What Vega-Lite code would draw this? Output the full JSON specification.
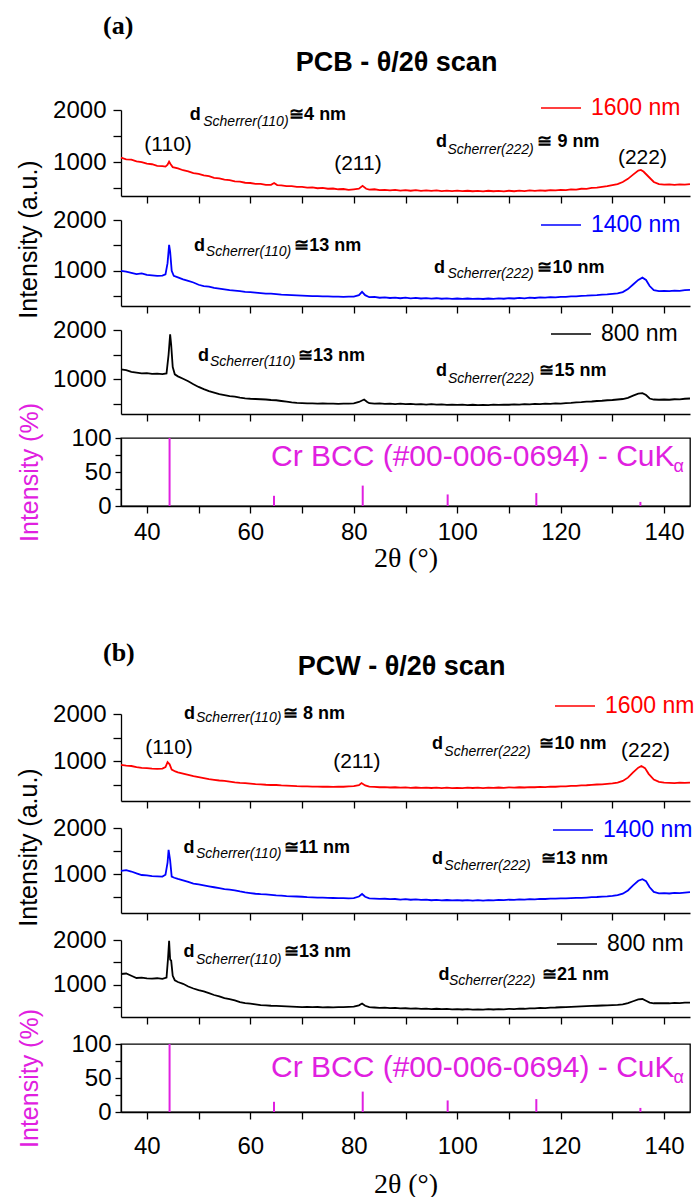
{
"$schema":"https://vega.github.io/schema/vega-lite/v6.json",
"background":"white",
"padding":{"left":15,"top":12,"right":5,"bottom":5},
"config":{
 "view":{"stroke":null},
 "font":"Liberation Sans",
 "axis":{"grid":false,"domainColor":"#000","tickColor":"#000","labelColor":"#000","titleColor":"#000","domainWidth":1.3,"tickWidth":1.3,"labelFont":"Liberation Sans","titleFont":"Liberation Sans","labelFontSize":24,"titleFontWeight":"normal"},
 "legend":{"orient":"none","symbolType":"stroke","symbolSize":1600,"symbolStrokeWidth":1.5,"labelFontSize":23,"labelFont":"Liberation Sans","labelOffset":9,"padding":0},
 "title":{"font":"Liberation Sans","color":"#000"}
},
"datasets":{
"ref":[{"x":44.39,"i":100},{"x":64.58,"i":15},{"x":81.73,"i":30},{"x":98.15,"i":17},{"x":115.29,"i":19},{"x":135.41,"i":6}],
"ann":[
{"p":"a16","k":"b","x":48.3,"y":1808,"t":"d"},{"p":"a16","k":"s","x":50.9,"y":1693,"t":"Scherrer(110)"},{"p":"a16","k":"b","x":67.5,"y":1808,"t":"≅4 nm"},
{"p":"a16","k":"h","x":44.1,"y":1212,"t":"(110)"},{"p":"a16","k":"h","x":80.8,"y":848,"t":"(211)"},
{"p":"a16","k":"b","x":95.9,"y":1290,"t":"d"},{"p":"a16","k":"s","x":98.1,"y":1155,"t":"Scherrer(222)"},{"p":"a16","k":"b","x":115.5,"y":1290,"t":"≅ 9 nm"},
{"p":"a16","k":"h","x":135.8,"y":963,"t":"(222)"},
{"p":"a14","k":"b","x":49.1,"y":1392,"t":"d"},{"p":"a14","k":"s","x":51.4,"y":1294,"t":"Scherrer(110)"},{"p":"a14","k":"b","x":68.5,"y":1392,"t":"≅13 nm"},
{"p":"a14","k":"b","x":95.5,"y":961,"t":"d"},{"p":"a14","k":"s","x":98.1,"y":863,"t":"Scherrer(222)"},{"p":"a14","k":"b","x":115.5,"y":961,"t":"≅10 nm"},
{"p":"a8","k":"b","x":49.9,"y":1367,"t":"d"},{"p":"a8","k":"s","x":52.2,"y":1266,"t":"Scherrer(110)"},{"p":"a8","k":"b","x":69.2,"y":1367,"t":"≅13 nm"},
{"p":"a8","k":"b","x":95.9,"y":1062,"t":"d"},{"p":"a8","k":"s","x":98.2,"y":919,"t":"Scherrer(222)"},{"p":"a8","k":"b","x":115.9,"y":1062,"t":"≅15 nm"},
{"p":"b16","k":"b","x":47.2,"y":1888,"t":"d"},{"p":"b16","k":"s","x":49.5,"y":1830,"t":"Scherrer(110)"},{"p":"b16","k":"b","x":66.3,"y":1888,"t":"≅ 8 nm"},
{"p":"b16","k":"h","x":44.3,"y":1150,"t":"(110)"},{"p":"b16","k":"h","x":80.6,"y":867,"t":"(211)"},
{"p":"b16","k":"b","x":95.1,"y":1255,"t":"d"},{"p":"b16","k":"s","x":97.5,"y":1114,"t":"Scherrer(222)"},{"p":"b16","k":"b","x":115.9,"y":1255,"t":"≅10 nm"},
{"p":"b16","k":"h","x":136.4,"y":1085,"t":"(222)"},
{"p":"b14","k":"b","x":47.1,"y":1465,"t":"d"},{"p":"b14","k":"s","x":49.5,"y":1358,"t":"Scherrer(110)"},{"p":"b14","k":"b","x":66.5,"y":1465,"t":"≅11 nm"},
{"p":"b14","k":"b","x":95.1,"y":1215,"t":"d"},{"p":"b14","k":"s","x":97.5,"y":1086,"t":"Scherrer(222)"},{"p":"b14","k":"b","x":116.2,"y":1215,"t":"≅13 nm"},
{"p":"b8","k":"b","x":47.1,"y":1614,"t":"d"},{"p":"b8","k":"s","x":49.5,"y":1467,"t":"Scherrer(110)"},{"p":"b8","k":"b","x":66.5,"y":1614,"t":"≅13 nm"},
{"p":"b8","k":"b","x":96.4,"y":1096,"t":"d"},{"p":"b8","k":"s","x":98.4,"y":985,"t":"Scherrer(222)"},{"p":"b8","k":"b","x":116.4,"y":1096,"t":"≅21 nm"},
{"p":"ra","k":"m","x":64,"y":59,"t":"Cr BCC (#00-006-0694) - CuK"},{"p":"ra","k":"a","x":141.8,"y":50,"t":"α"},
{"p":"rb","k":"m","x":64,"y":51,"t":"Cr BCC (#00-006-0694) - CuK"},{"p":"rb","k":"a","x":141.8,"y":42,"t":"α"}
],
"xrd":[
{"s":"a16","x":35,"y":1085},{"s":"a16","x":36,"y":1055},{"s":"a16","x":37,"y":1050},{"s":"a16","x":38,"y":1015},{"s":"a16","x":39,"y":1000},{"s":"a16","x":40,"y":970},{"s":"a16","x":41,"y":960},{"s":"a16","x":42,"y":930},{"s":"a16","x":43,"y":925},{"s":"a16","x":43.6,"y":915},{"s":"a16","x":44,"y":950},{"s":"a16","x":44.3,"y":1010},{"s":"a16","x":44.6,"y":960},{"s":"a16","x":45,"y":905},{"s":"a16","x":46,"y":880},{"s":"a16","x":47,"y":845},{"s":"a16","x":48,"y":825},{"s":"a16","x":49,"y":790},{"s":"a16","x":50,"y":775},{"s":"a16","x":51,"y":745},{"s":"a16","x":52,"y":730},{"s":"a16","x":53,"y":700},{"s":"a16","x":54,"y":690},{"s":"a16","x":55,"y":665},{"s":"a16","x":56,"y":655},{"s":"a16","x":57,"y":630},{"s":"a16","x":58,"y":625},{"s":"a16","x":59,"y":605},{"s":"a16","x":60,"y":600},{"s":"a16","x":61,"y":585},{"s":"a16","x":62,"y":585},{"s":"a16","x":63,"y":565},{"s":"a16","x":64,"y":565},{"s":"a16","x":64.6,"y":600},{"s":"a16","x":65.2,"y":560},{"s":"a16","x":66,"y":555},{"s":"a16","x":67,"y":540},{"s":"a16","x":68,"y":540},{"s":"a16","x":69,"y":525},{"s":"a16","x":70,"y":525},{"s":"a16","x":71,"y":510},{"s":"a16","x":72,"y":515},{"s":"a16","x":73,"y":500},{"s":"a16","x":74,"y":505},{"s":"a16","x":75,"y":490},{"s":"a16","x":76,"y":495},{"s":"a16","x":77,"y":480},{"s":"a16","x":78,"y":485},{"s":"a16","x":79,"y":470},{"s":"a16","x":80,"y":480},{"s":"a16","x":81,"y":490},{"s":"a16","x":81.7,"y":545},{"s":"a16","x":82.4,"y":490},{"s":"a16","x":83,"y":475},{"s":"a16","x":84,"y":480},{"s":"a16","x":85,"y":465},{"s":"a16","x":86,"y":470},{"s":"a16","x":87,"y":460},{"s":"a16","x":88,"y":468},{"s":"a16","x":89,"y":455},{"s":"a16","x":90,"y":465},{"s":"a16","x":91,"y":452},{"s":"a16","x":92,"y":462},{"s":"a16","x":93,"y":450},{"s":"a16","x":94,"y":460},{"s":"a16","x":95,"y":448},{"s":"a16","x":96,"y":458},{"s":"a16","x":97,"y":446},{"s":"a16","x":98,"y":455},{"s":"a16","x":99,"y":445},{"s":"a16","x":100,"y":455},{"s":"a16","x":101,"y":443},{"s":"a16","x":102,"y":452},{"s":"a16","x":103,"y":442},{"s":"a16","x":104,"y":450},{"s":"a16","x":105,"y":440},{"s":"a16","x":106,"y":452},{"s":"a16","x":107,"y":442},{"s":"a16","x":108,"y":450},{"s":"a16","x":109,"y":440},{"s":"a16","x":110,"y":452},{"s":"a16","x":111,"y":442},{"s":"a16","x":112,"y":455},{"s":"a16","x":113,"y":445},{"s":"a16","x":114,"y":458},{"s":"a16","x":115,"y":448},{"s":"a16","x":116,"y":460},{"s":"a16","x":117,"y":452},{"s":"a16","x":118,"y":465},{"s":"a16","x":119,"y":458},{"s":"a16","x":120,"y":470},{"s":"a16","x":121,"y":465},{"s":"a16","x":122,"y":478},{"s":"a16","x":123,"y":475},{"s":"a16","x":124,"y":490},{"s":"a16","x":125,"y":488},{"s":"a16","x":126,"y":505},{"s":"a16","x":127,"y":510},{"s":"a16","x":128,"y":525},{"s":"a16","x":129,"y":540},{"s":"a16","x":130,"y":560},{"s":"a16","x":131,"y":580},{"s":"a16","x":132,"y":620},{"s":"a16","x":133,"y":680},{"s":"a16","x":134,"y":760},{"s":"a16","x":135,"y":840},{"s":"a16","x":135.5,"y":850},{"s":"a16","x":136,"y":820},{"s":"a16","x":137,"y":720},{"s":"a16","x":138,"y":620},{"s":"a16","x":139,"y":580},{"s":"a16","x":140,"y":570},{"s":"a16","x":141,"y":575},{"s":"a16","x":142,"y":565},{"s":"a16","x":143,"y":575},{"s":"a16","x":144,"y":568},{"s":"a16","x":145,"y":578},
{"s":"a14","x":35,"y":1000},{"s":"a14","x":36,"y":985},{"s":"a14","x":37,"y":960},{"s":"a14","x":38,"y":935},{"s":"a14","x":39,"y":950},{"s":"a14","x":40,"y":920},{"s":"a14","x":41,"y":910},{"s":"a14","x":42,"y":900},{"s":"a14","x":43,"y":905},{"s":"a14","x":43.6,"y":930},{"s":"a14","x":44,"y":1150},{"s":"a14","x":44.3,"y":1510},{"s":"a14","x":44.5,"y":1380},{"s":"a14","x":44.8,"y":1000},{"s":"a14","x":45.2,"y":900},{"s":"a14","x":46,"y":870},{"s":"a14","x":47,"y":830},{"s":"a14","x":48,"y":800},{"s":"a14","x":49,"y":770},{"s":"a14","x":50,"y":725},{"s":"a14","x":51,"y":700},{"s":"a14","x":52,"y":690},{"s":"a14","x":53,"y":665},{"s":"a14","x":54,"y":650},{"s":"a14","x":55,"y":635},{"s":"a14","x":56,"y":620},{"s":"a14","x":57,"y":610},{"s":"a14","x":58,"y":600},{"s":"a14","x":59,"y":585},{"s":"a14","x":60,"y":580},{"s":"a14","x":61,"y":570},{"s":"a14","x":62,"y":560},{"s":"a14","x":63,"y":550},{"s":"a14","x":64,"y":550},{"s":"a14","x":65,"y":540},{"s":"a14","x":66,"y":530},{"s":"a14","x":67,"y":525},{"s":"a14","x":68,"y":520},{"s":"a14","x":69,"y":515},{"s":"a14","x":70,"y":510},{"s":"a14","x":71,"y":505},{"s":"a14","x":72,"y":500},{"s":"a14","x":73,"y":500},{"s":"a14","x":74,"y":495},{"s":"a14","x":75,"y":495},{"s":"a14","x":76,"y":490},{"s":"a14","x":77,"y":490},{"s":"a14","x":78,"y":485},{"s":"a14","x":79,"y":490},{"s":"a14","x":80,"y":490},{"s":"a14","x":81,"y":520},{"s":"a14","x":81.6,"y":585},{"s":"a14","x":82.2,"y":520},{"s":"a14","x":83,"y":480},{"s":"a14","x":84,"y":485},{"s":"a14","x":85,"y":470},{"s":"a14","x":86,"y":478},{"s":"a14","x":87,"y":465},{"s":"a14","x":88,"y":472},{"s":"a14","x":89,"y":460},{"s":"a14","x":90,"y":470},{"s":"a14","x":91,"y":458},{"s":"a14","x":92,"y":466},{"s":"a14","x":93,"y":455},{"s":"a14","x":94,"y":463},{"s":"a14","x":95,"y":452},{"s":"a14","x":96,"y":460},{"s":"a14","x":97,"y":450},{"s":"a14","x":98,"y":458},{"s":"a14","x":99,"y":448},{"s":"a14","x":100,"y":455},{"s":"a14","x":101,"y":446},{"s":"a14","x":102,"y":455},{"s":"a14","x":103,"y":448},{"s":"a14","x":104,"y":452},{"s":"a14","x":105,"y":445},{"s":"a14","x":106,"y":455},{"s":"a14","x":107,"y":448},{"s":"a14","x":108,"y":458},{"s":"a14","x":109,"y":450},{"s":"a14","x":110,"y":460},{"s":"a14","x":111,"y":455},{"s":"a14","x":112,"y":465},{"s":"a14","x":113,"y":458},{"s":"a14","x":114,"y":470},{"s":"a14","x":115,"y":465},{"s":"a14","x":116,"y":475},{"s":"a14","x":117,"y":470},{"s":"a14","x":118,"y":480},{"s":"a14","x":119,"y":478},{"s":"a14","x":120,"y":488},{"s":"a14","x":121,"y":485},{"s":"a14","x":122,"y":495},{"s":"a14","x":123,"y":495},{"s":"a14","x":124,"y":505},{"s":"a14","x":125,"y":510},{"s":"a14","x":126,"y":518},{"s":"a14","x":127,"y":520},{"s":"a14","x":128,"y":530},{"s":"a14","x":129,"y":535},{"s":"a14","x":130,"y":545},{"s":"a14","x":131,"y":555},{"s":"a14","x":132,"y":580},{"s":"a14","x":133,"y":640},{"s":"a14","x":134,"y":730},{"s":"a14","x":135,"y":820},{"s":"a14","x":135.8,"y":865},{"s":"a14","x":136.5,"y":820},{"s":"a14","x":137.2,"y":700},{"s":"a14","x":138,"y":620},{"s":"a14","x":139,"y":600},{"s":"a14","x":140,"y":605},{"s":"a14","x":141,"y":600},{"s":"a14","x":142,"y":610},{"s":"a14","x":143,"y":605},{"s":"a14","x":144,"y":620},{"s":"a14","x":145,"y":625},
{"s":"a8","x":35,"y":1200},{"s":"a8","x":36,"y":1185},{"s":"a8","x":37,"y":1150},{"s":"a8","x":38,"y":1135},{"s":"a8","x":39,"y":1120},{"s":"a8","x":40,"y":1125},{"s":"a8","x":41,"y":1110},{"s":"a8","x":42,"y":1115},{"s":"a8","x":43,"y":1105},{"s":"a8","x":43.8,"y":1120},{"s":"a8","x":44.2,"y":1500},{"s":"a8","x":44.5,"y":1910},{"s":"a8","x":44.7,"y":1700},{"s":"a8","x":45,"y":1250},{"s":"a8","x":45.4,"y":1100},{"s":"a8","x":46,"y":1060},{"s":"a8","x":47,"y":1010},{"s":"a8","x":48,"y":960},{"s":"a8","x":49,"y":900},{"s":"a8","x":50,"y":845},{"s":"a8","x":51,"y":800},{"s":"a8","x":52,"y":760},{"s":"a8","x":53,"y":730},{"s":"a8","x":54,"y":700},{"s":"a8","x":55,"y":680},{"s":"a8","x":56,"y":660},{"s":"a8","x":57,"y":650},{"s":"a8","x":58,"y":630},{"s":"a8","x":59,"y":615},{"s":"a8","x":60,"y":605},{"s":"a8","x":61,"y":600},{"s":"a8","x":62,"y":595},{"s":"a8","x":63,"y":590},{"s":"a8","x":64,"y":580},{"s":"a8","x":65,"y":575},{"s":"a8","x":66,"y":560},{"s":"a8","x":67,"y":545},{"s":"a8","x":68,"y":530},{"s":"a8","x":69,"y":520},{"s":"a8","x":70,"y":515},{"s":"a8","x":71,"y":510},{"s":"a8","x":72,"y":512},{"s":"a8","x":73,"y":505},{"s":"a8","x":74,"y":510},{"s":"a8","x":75,"y":505},{"s":"a8","x":76,"y":508},{"s":"a8","x":77,"y":500},{"s":"a8","x":78,"y":508},{"s":"a8","x":79,"y":505},{"s":"a8","x":80,"y":510},{"s":"a8","x":81,"y":540},{"s":"a8","x":82,"y":590},{"s":"a8","x":82.6,"y":540},{"s":"a8","x":83,"y":515},{"s":"a8","x":84,"y":505},{"s":"a8","x":85,"y":510},{"s":"a8","x":86,"y":500},{"s":"a8","x":87,"y":508},{"s":"a8","x":88,"y":498},{"s":"a8","x":89,"y":505},{"s":"a8","x":90,"y":495},{"s":"a8","x":91,"y":502},{"s":"a8","x":92,"y":492},{"s":"a8","x":93,"y":498},{"s":"a8","x":94,"y":488},{"s":"a8","x":95,"y":495},{"s":"a8","x":96,"y":485},{"s":"a8","x":97,"y":492},{"s":"a8","x":98,"y":482},{"s":"a8","x":99,"y":488},{"s":"a8","x":100,"y":480},{"s":"a8","x":101,"y":486},{"s":"a8","x":102,"y":478},{"s":"a8","x":103,"y":484},{"s":"a8","x":104,"y":476},{"s":"a8","x":105,"y":482},{"s":"a8","x":106,"y":478},{"s":"a8","x":107,"y":486},{"s":"a8","x":108,"y":480},{"s":"a8","x":109,"y":488},{"s":"a8","x":110,"y":484},{"s":"a8","x":111,"y":492},{"s":"a8","x":112,"y":488},{"s":"a8","x":113,"y":496},{"s":"a8","x":114,"y":492},{"s":"a8","x":115,"y":500},{"s":"a8","x":116,"y":496},{"s":"a8","x":117,"y":505},{"s":"a8","x":118,"y":500},{"s":"a8","x":119,"y":510},{"s":"a8","x":120,"y":508},{"s":"a8","x":121,"y":518},{"s":"a8","x":122,"y":520},{"s":"a8","x":123,"y":530},{"s":"a8","x":124,"y":535},{"s":"a8","x":125,"y":545},{"s":"a8","x":126,"y":550},{"s":"a8","x":127,"y":560},{"s":"a8","x":128,"y":565},{"s":"a8","x":129,"y":575},{"s":"a8","x":130,"y":580},{"s":"a8","x":131,"y":590},{"s":"a8","x":132,"y":600},{"s":"a8","x":133,"y":625},{"s":"a8","x":134,"y":670},{"s":"a8","x":135,"y":710},{"s":"a8","x":135.8,"y":720},{"s":"a8","x":136.5,"y":680},{"s":"a8","x":137.2,"y":610},{"s":"a8","x":138,"y":590},{"s":"a8","x":139,"y":585},{"s":"a8","x":140,"y":590},{"s":"a8","x":141,"y":585},{"s":"a8","x":142,"y":595},{"s":"a8","x":143,"y":592},{"s":"a8","x":144,"y":605},{"s":"a8","x":145,"y":610},
{"s":"b16","x":35,"y":930},{"s":"b16","x":36,"y":915},{"s":"b16","x":37,"y":905},{"s":"b16","x":38,"y":880},{"s":"b16","x":39,"y":865},{"s":"b16","x":40,"y":860},{"s":"b16","x":41,"y":850},{"s":"b16","x":42,"y":845},{"s":"b16","x":43,"y":850},{"s":"b16","x":43.6,"y":880},{"s":"b16","x":44,"y":985},{"s":"b16","x":44.4,"y":940},{"s":"b16","x":44.8,"y":830},{"s":"b16","x":45.5,"y":790},{"s":"b16","x":46,"y":770},{"s":"b16","x":47,"y":745},{"s":"b16","x":48,"y":720},{"s":"b16","x":49,"y":690},{"s":"b16","x":50,"y":670},{"s":"b16","x":51,"y":650},{"s":"b16","x":52,"y":630},{"s":"b16","x":53,"y":615},{"s":"b16","x":54,"y":600},{"s":"b16","x":55,"y":590},{"s":"b16","x":56,"y":575},{"s":"b16","x":57,"y":560},{"s":"b16","x":58,"y":550},{"s":"b16","x":59,"y":545},{"s":"b16","x":60,"y":535},{"s":"b16","x":61,"y":525},{"s":"b16","x":62,"y":520},{"s":"b16","x":63,"y":510},{"s":"b16","x":64,"y":505},{"s":"b16","x":65,"y":505},{"s":"b16","x":66,"y":495},{"s":"b16","x":67,"y":490},{"s":"b16","x":68,"y":485},{"s":"b16","x":69,"y":480},{"s":"b16","x":70,"y":478},{"s":"b16","x":71,"y":475},{"s":"b16","x":72,"y":470},{"s":"b16","x":73,"y":472},{"s":"b16","x":74,"y":468},{"s":"b16","x":75,"y":470},{"s":"b16","x":76,"y":465},{"s":"b16","x":77,"y":472},{"s":"b16","x":78,"y":468},{"s":"b16","x":79,"y":475},{"s":"b16","x":80,"y":480},{"s":"b16","x":81,"y":500},{"s":"b16","x":81.5,"y":545},{"s":"b16","x":82.2,"y":495},{"s":"b16","x":83,"y":470},{"s":"b16","x":84,"y":465},{"s":"b16","x":85,"y":458},{"s":"b16","x":86,"y":462},{"s":"b16","x":87,"y":452},{"s":"b16","x":88,"y":458},{"s":"b16","x":89,"y":450},{"s":"b16","x":90,"y":455},{"s":"b16","x":91,"y":446},{"s":"b16","x":92,"y":452},{"s":"b16","x":93,"y":444},{"s":"b16","x":94,"y":450},{"s":"b16","x":95,"y":442},{"s":"b16","x":96,"y":448},{"s":"b16","x":97,"y":440},{"s":"b16","x":98,"y":448},{"s":"b16","x":99,"y":440},{"s":"b16","x":100,"y":446},{"s":"b16","x":101,"y":440},{"s":"b16","x":102,"y":448},{"s":"b16","x":103,"y":442},{"s":"b16","x":104,"y":448},{"s":"b16","x":105,"y":440},{"s":"b16","x":106,"y":450},{"s":"b16","x":107,"y":444},{"s":"b16","x":108,"y":452},{"s":"b16","x":109,"y":446},{"s":"b16","x":110,"y":455},{"s":"b16","x":111,"y":450},{"s":"b16","x":112,"y":458},{"s":"b16","x":113,"y":452},{"s":"b16","x":114,"y":462},{"s":"b16","x":115,"y":458},{"s":"b16","x":116,"y":466},{"s":"b16","x":117,"y":462},{"s":"b16","x":118,"y":470},{"s":"b16","x":119,"y":468},{"s":"b16","x":120,"y":478},{"s":"b16","x":121,"y":475},{"s":"b16","x":122,"y":485},{"s":"b16","x":123,"y":488},{"s":"b16","x":124,"y":495},{"s":"b16","x":125,"y":500},{"s":"b16","x":126,"y":508},{"s":"b16","x":127,"y":515},{"s":"b16","x":128,"y":520},{"s":"b16","x":129,"y":530},{"s":"b16","x":130,"y":540},{"s":"b16","x":131,"y":555},{"s":"b16","x":132,"y":590},{"s":"b16","x":133,"y":660},{"s":"b16","x":134,"y":770},{"s":"b16","x":135,"y":870},{"s":"b16","x":135.6,"y":905},{"s":"b16","x":136.3,"y":860},{"s":"b16","x":137,"y":740},{"s":"b16","x":138,"y":620},{"s":"b16","x":139,"y":570},{"s":"b16","x":140,"y":555},{"s":"b16","x":141,"y":550},{"s":"b16","x":142,"y":545},{"s":"b16","x":143,"y":555},{"s":"b16","x":144,"y":548},{"s":"b16","x":145,"y":555},
{"s":"b14","x":35,"y":1075},{"s":"b14","x":36,"y":1090},{"s":"b14","x":37,"y":1060},{"s":"b14","x":38,"y":1020},{"s":"b14","x":39,"y":985},{"s":"b14","x":40,"y":975},{"s":"b14","x":41,"y":960},{"s":"b14","x":42,"y":955},{"s":"b14","x":43,"y":950},{"s":"b14","x":43.6,"y":990},{"s":"b14","x":44,"y":1250},{"s":"b14","x":44.2,"y":1530},{"s":"b14","x":44.5,"y":1300},{"s":"b14","x":44.8,"y":950},{"s":"b14","x":45.3,"y":925},{"s":"b14","x":46,"y":900},{"s":"b14","x":47,"y":870},{"s":"b14","x":48,"y":835},{"s":"b14","x":49,"y":800},{"s":"b14","x":50,"y":780},{"s":"b14","x":51,"y":760},{"s":"b14","x":52,"y":740},{"s":"b14","x":53,"y":720},{"s":"b14","x":54,"y":700},{"s":"b14","x":55,"y":680},{"s":"b14","x":56,"y":670},{"s":"b14","x":57,"y":655},{"s":"b14","x":58,"y":630},{"s":"b14","x":59,"y":610},{"s":"b14","x":60,"y":595},{"s":"b14","x":61,"y":580},{"s":"b14","x":62,"y":570},{"s":"b14","x":63,"y":565},{"s":"b14","x":64,"y":555},{"s":"b14","x":65,"y":545},{"s":"b14","x":66,"y":540},{"s":"b14","x":67,"y":530},{"s":"b14","x":68,"y":525},{"s":"b14","x":69,"y":520},{"s":"b14","x":70,"y":515},{"s":"b14","x":71,"y":505},{"s":"b14","x":72,"y":500},{"s":"b14","x":73,"y":495},{"s":"b14","x":74,"y":495},{"s":"b14","x":75,"y":490},{"s":"b14","x":76,"y":488},{"s":"b14","x":77,"y":485},{"s":"b14","x":78,"y":484},{"s":"b14","x":79,"y":482},{"s":"b14","x":80,"y":485},{"s":"b14","x":81,"y":520},{"s":"b14","x":81.6,"y":575},{"s":"b14","x":82.2,"y":515},{"s":"b14","x":83,"y":480},{"s":"b14","x":84,"y":475},{"s":"b14","x":85,"y":468},{"s":"b14","x":86,"y":472},{"s":"b14","x":87,"y":462},{"s":"b14","x":88,"y":466},{"s":"b14","x":89,"y":455},{"s":"b14","x":90,"y":462},{"s":"b14","x":91,"y":450},{"s":"b14","x":92,"y":458},{"s":"b14","x":93,"y":446},{"s":"b14","x":94,"y":452},{"s":"b14","x":95,"y":440},{"s":"b14","x":96,"y":448},{"s":"b14","x":97,"y":438},{"s":"b14","x":98,"y":445},{"s":"b14","x":99,"y":435},{"s":"b14","x":100,"y":442},{"s":"b14","x":101,"y":434},{"s":"b14","x":102,"y":440},{"s":"b14","x":103,"y":432},{"s":"b14","x":104,"y":440},{"s":"b14","x":105,"y":432},{"s":"b14","x":106,"y":442},{"s":"b14","x":107,"y":436},{"s":"b14","x":108,"y":446},{"s":"b14","x":109,"y":440},{"s":"b14","x":110,"y":452},{"s":"b14","x":111,"y":446},{"s":"b14","x":112,"y":458},{"s":"b14","x":113,"y":452},{"s":"b14","x":114,"y":464},{"s":"b14","x":115,"y":460},{"s":"b14","x":116,"y":470},{"s":"b14","x":117,"y":466},{"s":"b14","x":118,"y":476},{"s":"b14","x":119,"y":474},{"s":"b14","x":120,"y":480},{"s":"b14","x":121,"y":482},{"s":"b14","x":122,"y":486},{"s":"b14","x":123,"y":490},{"s":"b14","x":124,"y":492},{"s":"b14","x":125,"y":498},{"s":"b14","x":126,"y":505},{"s":"b14","x":127,"y":510},{"s":"b14","x":128,"y":518},{"s":"b14","x":129,"y":525},{"s":"b14","x":130,"y":535},{"s":"b14","x":131,"y":550},{"s":"b14","x":132,"y":580},{"s":"b14","x":133,"y":650},{"s":"b14","x":134,"y":760},{"s":"b14","x":135,"y":860},{"s":"b14","x":135.8,"y":895},{"s":"b14","x":136.5,"y":850},{"s":"b14","x":137.2,"y":720},{"s":"b14","x":138,"y":620},{"s":"b14","x":139,"y":590},{"s":"b14","x":140,"y":595},{"s":"b14","x":141,"y":585},{"s":"b14","x":142,"y":600},{"s":"b14","x":143,"y":595},{"s":"b14","x":144,"y":605},{"s":"b14","x":145,"y":615},
{"s":"b8","x":35,"y":1240},{"s":"b8","x":36,"y":1250},{"s":"b8","x":37,"y":1200},{"s":"b8","x":38,"y":1150},{"s":"b8","x":39,"y":1160},{"s":"b8","x":40,"y":1140},{"s":"b8","x":41,"y":1135},{"s":"b8","x":42,"y":1145},{"s":"b8","x":43,"y":1130},{"s":"b8","x":43.8,"y":1160},{"s":"b8","x":44.1,"y":1600},{"s":"b8","x":44.3,"y":1980},{"s":"b8","x":44.5,"y":1560},{"s":"b8","x":44.7,"y":1540},{"s":"b8","x":45,"y":1200},{"s":"b8","x":45.4,"y":1100},{"s":"b8","x":46,"y":1060},{"s":"b8","x":47,"y":1020},{"s":"b8","x":48,"y":960},{"s":"b8","x":49,"y":915},{"s":"b8","x":50,"y":880},{"s":"b8","x":51,"y":850},{"s":"b8","x":52,"y":810},{"s":"b8","x":53,"y":770},{"s":"b8","x":54,"y":740},{"s":"b8","x":55,"y":700},{"s":"b8","x":56,"y":680},{"s":"b8","x":57,"y":650},{"s":"b8","x":58,"y":610},{"s":"b8","x":59,"y":590},{"s":"b8","x":60,"y":575},{"s":"b8","x":61,"y":560},{"s":"b8","x":62,"y":545},{"s":"b8","x":63,"y":540},{"s":"b8","x":64,"y":530},{"s":"b8","x":65,"y":525},{"s":"b8","x":66,"y":520},{"s":"b8","x":67,"y":515},{"s":"b8","x":68,"y":510},{"s":"b8","x":69,"y":505},{"s":"b8","x":70,"y":500},{"s":"b8","x":71,"y":505},{"s":"b8","x":72,"y":498},{"s":"b8","x":73,"y":502},{"s":"b8","x":74,"y":495},{"s":"b8","x":75,"y":500},{"s":"b8","x":76,"y":495},{"s":"b8","x":77,"y":500},{"s":"b8","x":78,"y":498},{"s":"b8","x":79,"y":505},{"s":"b8","x":80,"y":510},{"s":"b8","x":81,"y":540},{"s":"b8","x":81.6,"y":580},{"s":"b8","x":82.2,"y":530},{"s":"b8","x":83,"y":500},{"s":"b8","x":84,"y":490},{"s":"b8","x":85,"y":482},{"s":"b8","x":86,"y":486},{"s":"b8","x":87,"y":476},{"s":"b8","x":88,"y":480},{"s":"b8","x":89,"y":470},{"s":"b8","x":90,"y":474},{"s":"b8","x":91,"y":465},{"s":"b8","x":92,"y":470},{"s":"b8","x":93,"y":460},{"s":"b8","x":94,"y":466},{"s":"b8","x":95,"y":456},{"s":"b8","x":96,"y":462},{"s":"b8","x":97,"y":452},{"s":"b8","x":98,"y":458},{"s":"b8","x":99,"y":448},{"s":"b8","x":100,"y":455},{"s":"b8","x":101,"y":446},{"s":"b8","x":102,"y":452},{"s":"b8","x":103,"y":444},{"s":"b8","x":104,"y":450},{"s":"b8","x":105,"y":444},{"s":"b8","x":106,"y":452},{"s":"b8","x":107,"y":446},{"s":"b8","x":108,"y":455},{"s":"b8","x":109,"y":450},{"s":"b8","x":110,"y":460},{"s":"b8","x":111,"y":456},{"s":"b8","x":112,"y":466},{"s":"b8","x":113,"y":462},{"s":"b8","x":114,"y":472},{"s":"b8","x":115,"y":470},{"s":"b8","x":116,"y":480},{"s":"b8","x":117,"y":478},{"s":"b8","x":118,"y":488},{"s":"b8","x":119,"y":490},{"s":"b8","x":120,"y":496},{"s":"b8","x":121,"y":500},{"s":"b8","x":122,"y":505},{"s":"b8","x":123,"y":510},{"s":"b8","x":124,"y":515},{"s":"b8","x":125,"y":520},{"s":"b8","x":126,"y":525},{"s":"b8","x":127,"y":530},{"s":"b8","x":128,"y":535},{"s":"b8","x":129,"y":540},{"s":"b8","x":130,"y":545},{"s":"b8","x":131,"y":550},{"s":"b8","x":132,"y":560},{"s":"b8","x":133,"y":590},{"s":"b8","x":134,"y":630},{"s":"b8","x":135,"y":670},{"s":"b8","x":135.8,"y":680},{"s":"b8","x":136.5,"y":640},{"s":"b8","x":137.2,"y":600},{"s":"b8","x":138,"y":585},{"s":"b8","x":139,"y":585},{"s":"b8","x":140,"y":590},{"s":"b8","x":141,"y":585},{"s":"b8","x":142,"y":595},{"s":"b8","x":143,"y":590},{"s":"b8","x":144,"y":598},{"s":"b8","x":145,"y":600}
]
},
"spacing":66,
"resolve":{"scale":{"x":"independent","y":"independent","color":"independent"},"legend":{"color":"independent"}},
"vconcat":[
{
 "title":{"text":"(a)","anchor":"start","font":"Liberation Serif","fontSize":26,"fontWeight":"bold","frame":"bounds","dx":87,"offset":10},
 "spacing":24,"bounds":"flush",
 "resolve":{"scale":{"x":"independent","y":"independent","color":"independent"},"legend":{"color":"independent"}},
 "vconcat":[
  {"width":569,"height":86,
   "title":{"text":"PCB - θ/2θ scan","fontSize":27,"fontWeight":"bold","anchor":"middle","dx":-9,"offset":10.5},
   "resolve":{"axis":{"y":"independent"}},
   "layer":[
    {"data":{"name":"xrd"},"transform":[{"filter":"datum.s==='a16'"}],"mark":{"type":"line","strokeWidth":1.8},
     "encoding":{
      "x":{"field":"x","type":"quantitative","scale":{"domain":[35,145],"nice":false,"zero":false},"axis":{"values":[40,50,60,70,80,90,100,110,120,130,140],"labels":false,"tickSize":7,"title":null}},
      "y":{"field":"y","type":"quantitative","scale":{"domain":[351,2000],"nice":false,"zero":false},"axis":{"orient":"left","values":[1000,2000],"format":"d","tickSize":8,"labelPadding":7,"title":null}},
      "color":{"datum":"1600 nm","type":"nominal","scale":{"range":["#ff0000"]},"legend":{"legendX":419,"legendY":-23,"labelColor":"#ff0000","title":null}}}},
    {"data":{"name":"ann"},"transform":[{"filter":"datum.p==='a16' && datum.k==='b'"}],"mark":{"type":"text","align":"left","baseline":"alphabetic","fontSize":18,"fontWeight":"bold","color":"#000"},"encoding":{"x":{"field":"x","type":"quantitative"},"y":{"field":"y","type":"quantitative","axis":{"orient":"left","values":[500,1500],"labels":false,"domain":false,"tickSize":8,"title":null}},"text":{"field":"t"}}},
    {"data":{"name":"ann"},"transform":[{"filter":"datum.p==='a16' && datum.k==='s'"}],"mark":{"type":"text","align":"left","baseline":"alphabetic","fontSize":14,"fontStyle":"italic","color":"#000"},"encoding":{"x":{"field":"x","type":"quantitative"},"y":{"field":"y","type":"quantitative","axis":null},"text":{"field":"t"}}},
    {"data":{"name":"ann"},"transform":[{"filter":"datum.p==='a16' && datum.k==='h'"}],"mark":{"type":"text","align":"center","baseline":"alphabetic","fontSize":21,"color":"#000"},"encoding":{"x":{"field":"x","type":"quantitative"},"y":{"field":"y","type":"quantitative","axis":null},"text":{"field":"t"}}}
   ]},
  {"width":569,"height":86,
   "resolve":{"axis":{"y":"independent"}},
   "layer":[
    {"data":{"name":"xrd"},"transform":[{"filter":"datum.s==='a14'"}],"mark":{"type":"line","strokeWidth":1.8},
     "encoding":{
      "x":{"field":"x","type":"quantitative","scale":{"domain":[35,145],"nice":false,"zero":false},"axis":{"values":[40,50,60,70,80,90,100,110,120,130,140],"labels":false,"tickSize":7,"title":null}},
      "y":{"field":"y","type":"quantitative","scale":{"domain":[307,2000],"nice":false,"zero":false},"axis":{"orient":"left","values":[1000,2000],"format":"d","tickSize":8,"labelPadding":7,"title":"Intensity (a.u.)","titleFontSize":25,"titleX":-80,"titleY":19,"titleBaseline":"bottom","titleAlign":"center"}},
      "color":{"datum":"1400 nm","type":"nominal","scale":{"range":["#0000ff"]},"legend":{"legendX":419,"legendY":-16,"labelColor":"#0000ff","title":null}}}},
    {"data":{"name":"ann"},"transform":[{"filter":"datum.p==='a14' && datum.k==='b'"}],"mark":{"type":"text","align":"left","baseline":"alphabetic","fontSize":18,"fontWeight":"bold","color":"#000"},"encoding":{"x":{"field":"x","type":"quantitative"},"y":{"field":"y","type":"quantitative","axis":{"orient":"left","values":[500,1500],"labels":false,"domain":false,"tickSize":8,"title":null}},"text":{"field":"t"}}},
    {"data":{"name":"ann"},"transform":[{"filter":"datum.p==='a14' && datum.k==='s'"}],"mark":{"type":"text","align":"left","baseline":"alphabetic","fontSize":14,"fontStyle":"italic","color":"#000"},"encoding":{"x":{"field":"x","type":"quantitative"},"y":{"field":"y","type":"quantitative","axis":null},"text":{"field":"t"}}}
   ]},
  {"width":569,"height":84,
   "resolve":{"axis":{"y":"independent"}},
   "layer":[
    {"data":{"name":"xrd"},"transform":[{"filter":"datum.s==='a8'"}],"mark":{"type":"line","strokeWidth":1.8},
     "encoding":{
      "x":{"field":"x","type":"quantitative","scale":{"domain":[35,145],"nice":false,"zero":false},"axis":{"values":[40,50,60,70,80,90,100,110,120,130,140],"labels":false,"tickSize":7,"title":null}},
      "y":{"field":"y","type":"quantitative","scale":{"domain":[296,2000],"nice":false,"zero":false},"axis":{"orient":"left","values":[1000,2000],"format":"d","tickSize":8,"labelPadding":7,"title":null}},
      "color":{"datum":"800 nm","type":"nominal","scale":{"range":["#000000"]},"legend":{"legendX":429,"legendY":-17,"labelColor":"#000000","title":null}}}},
    {"data":{"name":"ann"},"transform":[{"filter":"datum.p==='a8' && datum.k==='b'"}],"mark":{"type":"text","align":"left","baseline":"alphabetic","fontSize":18,"fontWeight":"bold","color":"#000"},"encoding":{"x":{"field":"x","type":"quantitative"},"y":{"field":"y","type":"quantitative","axis":{"orient":"left","values":[500,1500],"labels":false,"domain":false,"tickSize":8,"title":null}},"text":{"field":"t"}}},
    {"data":{"name":"ann"},"transform":[{"filter":"datum.p==='a8' && datum.k==='s'"}],"mark":{"type":"text","align":"left","baseline":"alphabetic","fontSize":14,"fontStyle":"italic","color":"#000"},"encoding":{"x":{"field":"x","type":"quantitative"},"y":{"field":"y","type":"quantitative","axis":null},"text":{"field":"t"}}}
   ]},
  {"width":569,"height":68,"view":{"stroke":"#000","strokeWidth":1.3},
   "resolve":{"axis":{"y":"independent"}},
   "layer":[
    {"data":{"name":"ref"},"mark":{"type":"rule","color":"#e020e0","strokeWidth":2},
     "encoding":{
      "x":{"field":"x","type":"quantitative","scale":{"domain":[35,145],"nice":false,"zero":false},"axis":{"values":[40,50,60,70,80,90,100,110,120,130,140],"labelExpr":"datum.value % 20 === 0 ? datum.label : ''","tickSize":7,"labelPadding":7,"title":"2θ (°)","titleFont":"Liberation Serif","titleFontSize":28,"titleY":52,"titleBaseline":"middle"}},
      "y":{"field":"i","type":"quantitative","scale":{"domain":[0,100],"nice":false},"axis":{"orient":"left","values":[0,100],"tickSize":6,"labelPadding":4,"title":"Intensity (%)","titleColor":"#e020e0","titleFontSize":25,"titleX":-79,"titleBaseline":"bottom"}},
      "y2":{"datum":0}}},
    {"data":{"name":"ann"},"transform":[{"filter":"datum.p==='ra' && datum.k==='m'"}],"mark":{"type":"text","align":"left","baseline":"alphabetic","fontSize":30,"color":"#e020e0"},"encoding":{"x":{"field":"x","type":"quantitative"},"y":{"field":"y","type":"quantitative","axis":{"orient":"left","values":[50],"domain":false,"tickSize":6,"labelPadding":4,"title":null}},"text":{"field":"t"}}},
    {"data":{"name":"ann"},"transform":[{"filter":"datum.p==='ra' && datum.k==='a'"}],"mark":{"type":"text","align":"left","baseline":"alphabetic","fontSize":18,"color":"#e020e0"},"encoding":{"x":{"field":"x","type":"quantitative"},"y":{"field":"y","type":"quantitative","axis":{"orient":"left","values":[25,75],"labels":false,"domain":false,"tickSize":6,"title":null}},"text":{"field":"t"}}}
   ]}
 ]
},
{
 "title":{"text":"(b)","anchor":"start","font":"Liberation Serif","fontSize":26,"fontWeight":"bold","frame":"bounds","dx":87,"offset":-13},
 "spacing":27,"bounds":"flush",
 "resolve":{"scale":{"x":"independent","y":"independent","color":"independent"},"legend":{"color":"independent"}},
 "vconcat":[
  {"width":569,"height":87,
   "title":{"text":"PCW - θ/2θ scan","fontSize":27,"fontWeight":"bold","anchor":"middle","dx":-4,"offset":4.5},
   "resolve":{"axis":{"y":"independent"}},
   "layer":[
    {"data":{"name":"xrd"},"transform":[{"filter":"datum.s==='b16'"}],"mark":{"type":"line","strokeWidth":1.8},
     "encoding":{
      "x":{"field":"x","type":"quantitative","scale":{"domain":[35,145],"nice":false,"zero":false},"axis":{"values":[40,50,60,70,80,90,100,110,120,130,140],"labels":false,"tickSize":7,"title":null}},
      "y":{"field":"y","type":"quantitative","scale":{"domain":[168,2000],"nice":false,"zero":false},"axis":{"orient":"left","values":[1000,2000],"format":"d","tickSize":8,"labelPadding":7,"title":null}},
      "color":{"datum":"1600 nm","type":"nominal","scale":{"range":["#ff0000"]},"legend":{"legendX":433,"legendY":-29,"labelColor":"#ff0000","title":null}}}},
    {"data":{"name":"ann"},"transform":[{"filter":"datum.p==='b16' && datum.k==='b'"}],"mark":{"type":"text","align":"left","baseline":"alphabetic","fontSize":18,"fontWeight":"bold","color":"#000"},"encoding":{"x":{"field":"x","type":"quantitative"},"y":{"field":"y","type":"quantitative","axis":{"orient":"left","values":[500,1500],"labels":false,"domain":false,"tickSize":8,"title":null}},"text":{"field":"t"}}},
    {"data":{"name":"ann"},"transform":[{"filter":"datum.p==='b16' && datum.k==='s'"}],"mark":{"type":"text","align":"left","baseline":"alphabetic","fontSize":14,"fontStyle":"italic","color":"#000"},"encoding":{"x":{"field":"x","type":"quantitative"},"y":{"field":"y","type":"quantitative","axis":null},"text":{"field":"t"}}},
    {"data":{"name":"ann"},"transform":[{"filter":"datum.p==='b16' && datum.k==='h'"}],"mark":{"type":"text","align":"center","baseline":"alphabetic","fontSize":21,"color":"#000"},"encoding":{"x":{"field":"x","type":"quantitative"},"y":{"field":"y","type":"quantitative","axis":null},"text":{"field":"t"}}}
   ]},
  {"width":569,"height":85,
   "resolve":{"axis":{"y":"independent"}},
   "layer":[
    {"data":{"name":"xrd"},"transform":[{"filter":"datum.s==='b14'"}],"mark":{"type":"line","strokeWidth":1.8},
     "encoding":{
      "x":{"field":"x","type":"quantitative","scale":{"domain":[35,145],"nice":false,"zero":false},"axis":{"values":[40,50,60,70,80,90,100,110,120,130,140],"labels":false,"tickSize":7,"title":null}},
      "y":{"field":"y","type":"quantitative","scale":{"domain":[164,2000],"nice":false,"zero":false},"axis":{"orient":"left","values":[1000,2000],"format":"d","tickSize":8,"labelPadding":7,"title":"Intensity (a.u.)","titleFontSize":25,"titleX":-80,"titleY":19,"titleBaseline":"bottom","titleAlign":"center"}},
      "color":{"datum":"1400 nm","type":"nominal","scale":{"range":["#0000ff"]},"legend":{"legendX":431,"legendY":-19,"labelColor":"#0000ff","title":null}}}},
    {"data":{"name":"ann"},"transform":[{"filter":"datum.p==='b14' && datum.k==='b'"}],"mark":{"type":"text","align":"left","baseline":"alphabetic","fontSize":18,"fontWeight":"bold","color":"#000"},"encoding":{"x":{"field":"x","type":"quantitative"},"y":{"field":"y","type":"quantitative","axis":{"orient":"left","values":[500,1500],"labels":false,"domain":false,"tickSize":8,"title":null}},"text":{"field":"t"}}},
    {"data":{"name":"ann"},"transform":[{"filter":"datum.p==='b14' && datum.k==='s'"}],"mark":{"type":"text","align":"left","baseline":"alphabetic","fontSize":14,"fontStyle":"italic","color":"#000"},"encoding":{"x":{"field":"x","type":"quantitative"},"y":{"field":"y","type":"quantitative","axis":null},"text":{"field":"t"}}}
   ]},
  {"width":569,"height":77,
   "resolve":{"axis":{"y":"independent"}},
   "layer":[
    {"data":{"name":"xrd"},"transform":[{"filter":"datum.s==='b8'"}],"mark":{"type":"line","strokeWidth":1.8},
     "encoding":{
      "x":{"field":"x","type":"quantitative","scale":{"domain":[35,145],"nice":false,"zero":false},"axis":{"values":[40,50,60,70,80,90,100,110,120,130,140],"labels":false,"tickSize":7,"title":null}},
      "y":{"field":"y","type":"quantitative","scale":{"domain":[278,2000],"nice":false,"zero":false},"axis":{"orient":"left","values":[1000,2000],"format":"d","tickSize":8,"labelPadding":7,"title":null}},
      "color":{"datum":"800 nm","type":"nominal","scale":{"range":["#000000"]},"legend":{"legendX":435,"legendY":-17,"labelColor":"#000000","title":null}}}},
    {"data":{"name":"ann"},"transform":[{"filter":"datum.p==='b8' && datum.k==='b'"}],"mark":{"type":"text","align":"left","baseline":"alphabetic","fontSize":18,"fontWeight":"bold","color":"#000"},"encoding":{"x":{"field":"x","type":"quantitative"},"y":{"field":"y","type":"quantitative","axis":{"orient":"left","values":[500,1500],"labels":false,"domain":false,"tickSize":8,"title":null}},"text":{"field":"t"}}},
    {"data":{"name":"ann"},"transform":[{"filter":"datum.p==='b8' && datum.k==='s'"}],"mark":{"type":"text","align":"left","baseline":"alphabetic","fontSize":14,"fontStyle":"italic","color":"#000"},"encoding":{"x":{"field":"x","type":"quantitative"},"y":{"field":"y","type":"quantitative","axis":null},"text":{"field":"t"}}}
   ]},
  {"width":569,"height":68,"view":{"stroke":"#000","strokeWidth":1.3},
   "resolve":{"axis":{"y":"independent"}},
   "layer":[
    {"data":{"name":"ref"},"mark":{"type":"rule","color":"#e020e0","strokeWidth":2},
     "encoding":{
      "x":{"field":"x","type":"quantitative","scale":{"domain":[35,145],"nice":false,"zero":false},"axis":{"values":[40,50,60,70,80,90,100,110,120,130,140],"labelExpr":"datum.value % 20 === 0 ? datum.label : ''","tickSize":7,"labelPadding":15,"title":"2θ (°)","titleFont":"Liberation Serif","titleFontSize":28,"titleY":72,"titleBaseline":"middle"}},
      "y":{"field":"i","type":"quantitative","scale":{"domain":[0,100],"nice":false},"axis":{"orient":"left","values":[0,100],"tickSize":6,"labelPadding":4,"title":"Intensity (%)","titleColor":"#e020e0","titleFontSize":25,"titleX":-79,"titleBaseline":"bottom"}},
      "y2":{"datum":0}}},
    {"data":{"name":"ann"},"transform":[{"filter":"datum.p==='rb' && datum.k==='m'"}],"mark":{"type":"text","align":"left","baseline":"alphabetic","fontSize":30,"color":"#e020e0"},"encoding":{"x":{"field":"x","type":"quantitative"},"y":{"field":"y","type":"quantitative","axis":{"orient":"left","values":[50],"domain":false,"tickSize":6,"labelPadding":4,"title":null}},"text":{"field":"t"}}},
    {"data":{"name":"ann"},"transform":[{"filter":"datum.p==='rb' && datum.k==='a'"}],"mark":{"type":"text","align":"left","baseline":"alphabetic","fontSize":18,"color":"#e020e0"},"encoding":{"x":{"field":"x","type":"quantitative"},"y":{"field":"y","type":"quantitative","axis":{"orient":"left","values":[25,75],"labels":false,"domain":false,"tickSize":6,"title":null}},"text":{"field":"t"}}}
   ]}
 ]
}
]
}
